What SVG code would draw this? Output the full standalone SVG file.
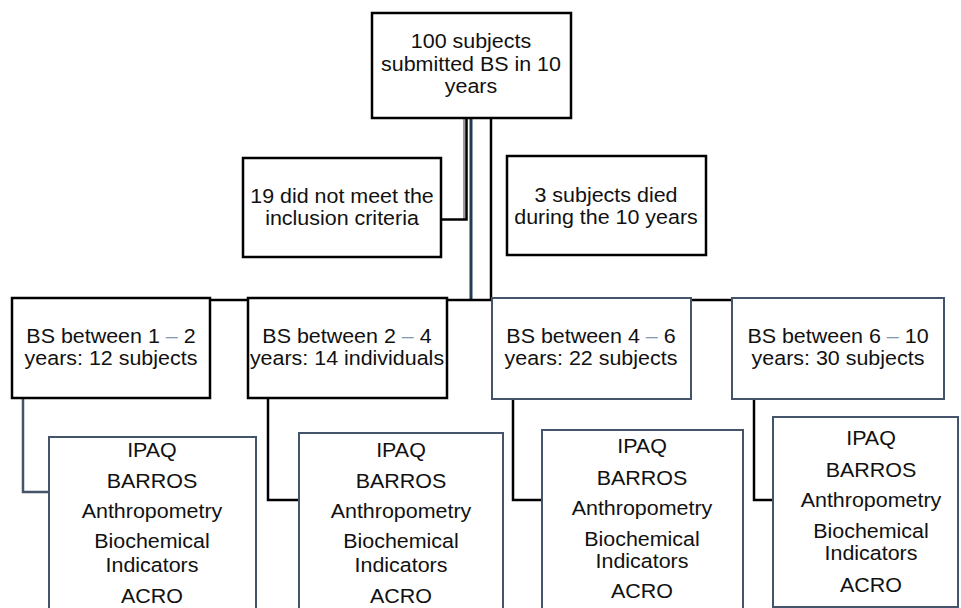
<svg xmlns="http://www.w3.org/2000/svg" width="961" height="608" viewBox="0 0 961 608">
<style>
.bk{fill:#fff;stroke:#000;stroke-width:2.5}
.sl{fill:#fff;stroke:#44546a;stroke-width:2}
.t{font-family:"Liberation Sans",Arial,sans-serif;font-size:19.5px;fill:#111;text-anchor:middle}
.d{fill:#7f97b2}
.cb{fill:none;stroke:#000;stroke-width:2.5}
.cs{fill:none;stroke:#44546a;stroke-width:2.5}
</style>
<rect width="961" height="608" fill="#fff"/>
<g id="connectors">
<path d="M464,118 V219" fill="none" stroke="#9a9a9a" stroke-width="2"/>
<path class="cb" d="M466.5,118 V219.5 H441" stroke-width="2"/>
<path d="M471,118 V300" fill="none" stroke="#243b55" stroke-width="3"/>
<path class="cb" d="M491,118 V300"/>
<path class="cb" d="M210,300 H248"/>
<path class="cb" d="M447,300 H492"/>
<path class="cb" d="M691,300 H732"/>
<path class="cs" d="M23,398 V492 H49"/>
<path class="cb" d="M268,398 V500 H299"/>
<path class="cb" d="M513,399 V500 H542"/>
<path class="cb" d="M754,399 V500 H773"/>
</g>
<g id="top">
<rect class="bk" x="372" y="13" width="199" height="105"/>
<g transform="matrix(1.1,0,0,1,-47.1,0)">
<text class="t" x="471" y="48">100 subjects</text>
<text class="t" x="471" y="71">submitted BS in 10</text>
<text class="t" x="471" y="93">years</text>
</g>
</g>
<g id="excluded">
<rect class="bk" x="243" y="158" width="198" height="99"/>
<g transform="matrix(1.1,0,0,1,-34.2,0)">
<text class="t" x="342" y="203">19 did not meet the</text>
<text class="t" x="342" y="225">inclusion criteria</text>
</g>
</g>
<g id="died">
<rect class="bk" x="507" y="156" width="199" height="99"/>
<g transform="matrix(1.1,0,0,1,-60.6,0)">
<text class="t" x="606" y="202">3 subjects died</text>
<text class="t" x="606" y="224">during the 10 years</text>
</g>
</g>
<g id="bs12">
<rect class="bk" x="12" y="298" width="198" height="100"/>
<g transform="matrix(1.1,0,0,1,-11.1,0)">
<text class="t" x="111" y="343">BS between 1 <tspan class="d">–</tspan> 2</text>
<text class="t" x="111" y="365">years: 12 subjects</text>
</g>
</g>
<g id="bs24">
<rect class="bk" x="248" y="298" width="199" height="100"/>
<g transform="matrix(1.1,0,0,1,-34.7,0)">
<text class="t" x="347" y="343">BS between 2 <tspan class="d">–</tspan> 4</text>
<text class="t" x="347" y="365">years: 14 individuals</text>
</g>
</g>
<g id="bs46">
<rect class="sl" x="492" y="298" width="199" height="101"/>
<g transform="matrix(1.1,0,0,1,-59.1,0)">
<text class="t" x="591" y="343">BS between 4 <tspan class="d">–</tspan> 6</text>
<text class="t" x="591" y="365">years: 22 subjects</text>
</g>
</g>
<g id="bs610">
<rect class="sl" x="732" y="298" width="212" height="101"/>
<g transform="matrix(1.1,0,0,1,-83.8,0)">
<text class="t" x="838" y="343">BS between 6 <tspan class="d">–</tspan> 10</text>
<text class="t" x="838" y="365">years: 30 subjects</text>
</g>
</g>
<g id="m1">
<rect class="sl" x="49" y="437" width="207" height="180"/>
<g transform="matrix(1.1,0,0,1,-15.2,0)">
<text class="t" x="152" y="457">IPAQ</text>
<text class="t" x="152" y="488">BARROS</text>
<text class="t" x="152" y="518">Anthropometry</text>
<text class="t" x="152" y="548">Biochemical</text>
<text class="t" x="152" y="572">Indicators</text>
<text class="t" x="152" y="603">ACRO</text>
</g>
</g>
<g id="m2">
<rect class="sl" x="299" y="433" width="204" height="185"/>
<g transform="matrix(1.1,0,0,1,-40.1,0)">
<text class="t" x="401" y="457">IPAQ</text>
<text class="t" x="401" y="488">BARROS</text>
<text class="t" x="401" y="518">Anthropometry</text>
<text class="t" x="401" y="548">Biochemical</text>
<text class="t" x="401" y="572">Indicators</text>
<text class="t" x="401" y="603">ACRO</text>
</g>
</g>
<g id="m3">
<rect class="sl" x="542" y="430" width="201" height="188"/>
<g transform="matrix(1.1,0,0,1,-64.2,0)">
<text class="t" x="642" y="453">IPAQ</text>
<text class="t" x="642" y="485">BARROS</text>
<text class="t" x="642" y="515">Anthropometry</text>
<text class="t" x="642" y="546">Biochemical</text>
<text class="t" x="642" y="568">Indicators</text>
<text class="t" x="642" y="598">ACRO</text>
</g>
</g>
<g id="m4">
<rect class="sl" x="773" y="417" width="185" height="190"/>
<g transform="matrix(1.1,0,0,1,-87.1,0)">
<text class="t" x="871" y="445">IPAQ</text>
<text class="t" x="871" y="477">BARROS</text>
<text class="t" x="871" y="507">Anthropometry</text>
<text class="t" x="871" y="538">Biochemical</text>
<text class="t" x="871" y="560">Indicators</text>
<text class="t" x="871" y="592">ACRO</text>
</g>
</g>
</svg>
